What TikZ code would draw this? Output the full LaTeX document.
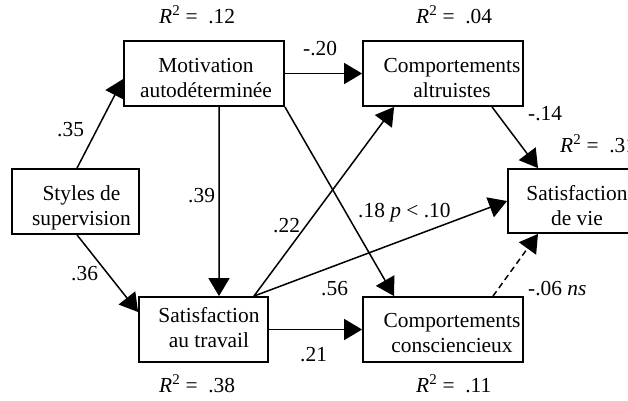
\documentclass[tikz,border=0pt]{standalone}
\usepackage{fontspec}
\setmainfont{Liberation Serif}
\usetikzlibrary{arrows.meta,calc}
\begin{document}
\begin{tikzpicture}[x=1bp,y=-1bp,
  box/.style={draw,line width=1.8bp,minimum width=#1,minimum height=65bp,inner sep=0pt},
  box/.default=160bp,
  txt/.style={align=center,inner sep=0pt,font=\fontsize{21.4bp}{25bp}\selectfont},
  lbl/.style={anchor=base west,inner sep=0pt,font=\fontsize{21.4bp}{25bp}\selectfont},
  arr/.style={line width=1.5bp,-{Triangle[length=18bp,width=21bp]}},
  dasharr/.style={arr,dash pattern=on 6bp off 4bp},
]
\useasboundingbox (0,0) rectangle (628,400);
\clip (0,0) rectangle (628,400);

% boxes
\node[box=160bp] (mot) at (204,73.5) {};
\node[box=127bp] (sty) at (75.5,201.5) {};
\node[box=129bp] (sat) at (203.5,329.5) {};
\node[box=160bp] (alt) at (443,73.5) {};
\node[box=160bp] (con) at (443,329.5) {};
\node[box=128bp,minimum height=64bp,anchor=west] (vie) at (507,201) {};

% box texts
\node[txt] (motT) at (206,78.3) {Motivation\\autodéterminée};
\node[txt] (styT) at (81.5,207.5) {Styles de\\supervision};
\node[txt] (satT) at (209,327.3) {Satisfaction\\au travail};
\node[txt] (altT) at (452,78.3) {Comportements\\altruistes};
\node[txt] (conT) at (452,333.3) {Comportements\\consciencieux};
\node[txt] (vieT) at (577,205.3) {Satisfaction\\de vie};

% connectors
\draw[arr] ($(sty.north)+(1.5,0)$) -- ($(mot.west)+(0,5.5)$);
\draw[arr] ($(sty.south)+(1.5,0)$) -- ($(sat.west)+(0,-17.5)$);
\draw[arr] (mot.east) -- (alt.west);
\draw[arr] ($(mot.south)+(15,0)$) -- ($(sat.north)+(15.5,0)$);
\draw[arr] (mot.south east) -- ($(con.north west)+(32,0)$);
\draw[arr] ($(sat.north east)+(-15,0)$) -- ($(alt.south west)+(32,0)$);
\draw[arr] ($(sat.north east)+(-15,0)$) -- (vie.west);
\draw[arr] (sat.east) -- (con.west);
\draw[arr] ($(alt.south)+(49,0)$) -- ($(vie.north west)+(31,0)$);
\draw[dasharr] ($(con.north)+(50,0)$) -- ($(vie.south west)+(31,0)$);

% path coefficients
\node[lbl] (l35) at (57,136) {.35};
\node[lbl] (l36) at (71,280) {.36};
\node[lbl] (l39) at (188,202) {.39};
\node[lbl] (l20) at (303,55) {-.20};
\node[lbl] (l14) at (528,120) {-.14};
\node[lbl] (l22) at (273,232) {.22};
\node[lbl] (l18) at (358,217) {.18 \textit{p} < .10};
\node[lbl] (l56) at (321,295) {.56};
\node[lbl] (l21) at (300,361) {.21};
\node[lbl] (l06) at (528,295) {-.06 \textit{ns}};

% R squared
\node[lbl] (r12) at (159,23) {\textit{R}\textsuperscript{2} = \ .12};
\node[lbl] (r04) at (416,23) {\textit{R}\textsuperscript{2} = \ .04};
\node[lbl] (r31) at (560,152) {\textit{R}\textsuperscript{2} = \ .31};
\node[lbl] (r38) at (159,392) {\textit{R}\textsuperscript{2} = \ .38};
\node[lbl] (r11) at (416,392) {\textit{R}\textsuperscript{2} = \ .11};
\end{tikzpicture}
\end{document}
